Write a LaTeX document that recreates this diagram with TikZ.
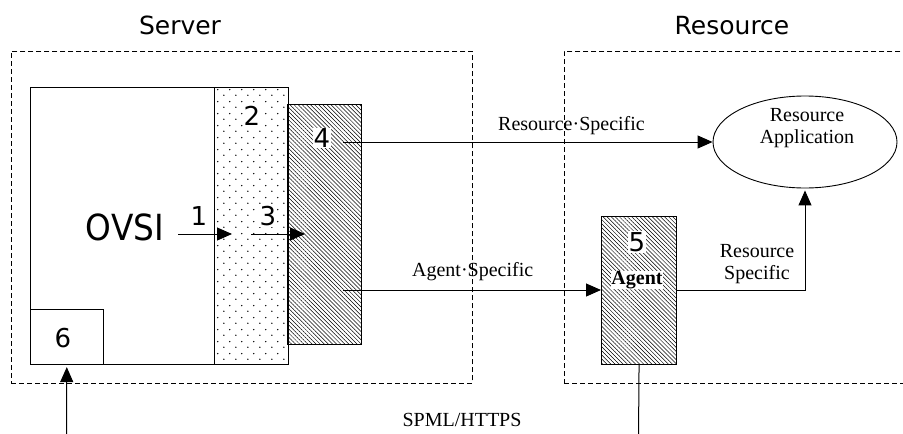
\documentclass[tikz,border=0pt]{standalone}
\usepackage{fontspec}
\setmainfont{Liberation Serif}
\newfontfamily\sansfnt{DejaVu Sans}
\newfontfamily\sansnarrow[FakeStretch=0.91]{DejaVu Sans}
\usetikzlibrary{shapes.geometric,patterns.meta,arrows.meta,calc}
\pgfdeclarepattern{
  name=stagdots,
  type=uncolored,
  bottom left={\pgfpoint{0pt}{0pt}},
  top right={\pgfpoint{12.3pt}{12pt}},
  tile size={\pgfpoint{12.3pt}{12pt}},
  code={
    \pgfpathcircle{\pgfpoint{3pt}{3pt}}{0.8pt}
    \pgfpathcircle{\pgfpoint{9.15pt}{9pt}}{0.8pt}
    \pgfusepath{fill}
  }
}
\begin{document}
\begin{tikzpicture}[x=1pt,y=-1pt,line width=1pt,
  dashedbox/.style={draw,dash pattern=on 5pt off 3pt,line width=0.9pt,inner sep=0pt,anchor=north west},
  box/.style={draw,line width=1.1pt,inner sep=0pt,anchor=north west},
  arr/.style={-{Triangle[length=15pt,width=13pt]},line width=1pt},
  lbl/.style={font=\fontsize{20}{22.5}\selectfont,align=center,inner sep=0pt},
  num/.style={font=\sansfnt\fontsize{26}{26}\selectfont,inner sep=1pt,fill=white},
  title/.style={font=\sansfnt\fontsize{25}{30}\selectfont,inner sep=0pt},
  hatch/.style={pattern={Lines[angle=-45,distance=2.9pt,line width=0.5pt]}},
  dotfill/.style={pattern=stagdots}]
\useasboundingbox (0,0) rectangle (903,434);
\clip (0,0) rectangle (903,434);
\fill[white] (0,0) rectangle (903,434);
% containers
\node[dashedbox,minimum width=461pt,minimum height=332pt] (server) at (11,51) {};
\node[dashedbox,minimum width=346pt,minimum height=332pt] (resource) at (564,51) {};
\node[title] (serverlbl) at (180,25) {Server};
\node[title] (resourcelbl) at (732,26) {Resource};
% server boxes
\node[box,minimum width=184.5pt,minimum height=277pt] (ovsi) at (29.5,87) {};
\node[box,minimum width=73.5pt,minimum height=55pt] (b6) at (29.5,309) {};
\node[box,dotfill,minimum width=73.5pt,minimum height=277pt] (b2) at (214,87) {};
\node[box,hatch,minimum width=74pt,minimum height=240pt] (b4) at (287.5,104) {};
% resource side
\node[box,hatch,minimum width=75pt,minimum height=148pt] (b5) at (601,216) {};
\node[draw,ellipse,line width=0.9pt,minimum width=184pt,minimum height=92pt,inner sep=0pt] (app) at (805,142) {};
\node[lbl] (applbl) at (807,128) {Resource\\Application};
% labels
\node[font=\sansnarrow\fontsize{36}{36}\selectfont,inner sep=0pt] (ovsilbl) at (125,227) {OVSI};
\node[num] (n1) at (199,216) {1};
\node[num] (n2) at (252,116) {2};
\node[num] (n3) at (268,216) {3};
\node[num] (n4) at (322,138) {4};
\node[num] (n5) at (637,242) {5};
\node[num] (n6) at (63,338) {6};
\node[font=\bfseries\fontsize{20}{22}\selectfont,fill=white,inner sep=0.5pt] (agentlbl) at (637,280) {Agent};
% arrows inside server
\coordinate (a1s) at (178,234);
\coordinate (a1e) at (232,234);
\coordinate (a3s) at (251,234);
\coordinate (a3e) at (305,234);
\draw[arr] (a1s) -- (a1e);
\draw[arr] (a3s) -- (a3e);
% resource specific
\coordinate (r4) at (343,142);
\draw[arr] (r4) -- (app.west);
\node[lbl] (rslbl) at (571.5,126) {Resource·Specific};
% agent specific
\coordinate (ag4) at (343,290);
\draw[arr] (ag4) -- (ag4 -| b5.west);
\node[lbl] (aslbl) at (472.7,272) {Agent·Specific};
% agent to application
\draw[arr,shorten >=2pt] (ag4 -| b5.east) -| (app.south);
\node[lbl] (rs2lbl) at (757,264) {Resource\\Specific};
% bottom
\node[lbl] (spml) at (462,420) {SPML/HTTPS};
\coordinate (bot1) at (66.5,440);
\coordinate (bot2) at (638.5,440);
\draw[arr,shorten >=2pt] (bot1) -- (b6.south);
\draw (b5.south) -- (bot2);
\end{tikzpicture}
\end{document}
